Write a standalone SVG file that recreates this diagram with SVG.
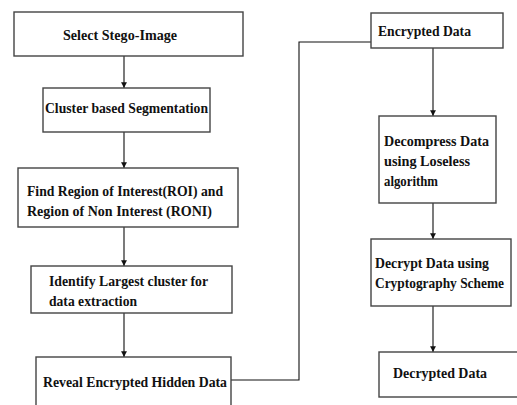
<svg xmlns="http://www.w3.org/2000/svg" width="517" height="405" viewBox="0 0 517 405">
<style>
.box{fill:#fff;stroke:#444;stroke-width:1.4}
.t{font-family:"Liberation Serif","DejaVu Serif",serif;font-weight:bold;font-size:14.5px;fill:#111}
.c{fill:none;stroke:#333;stroke-width:1.3}
.l{fill:none;stroke:#111;stroke-width:1.1}
</style>
<defs>
<marker id="ah" viewBox="0 0 10 10" refX="10" refY="5" markerWidth="4.5" markerHeight="4.5" orient="auto" markerUnits="strokeWidth">
<path d="M0,0 L10,5 L0,10 z" fill="#111"/>
</marker>
</defs>
<rect width="517" height="405" fill="#fff"/>
<g id="connectors">
<line class="c" x1="124" y1="56" x2="124" y2="88" marker-end="url(#ah)"/>
<line class="c" x1="124" y1="132" x2="124" y2="168" marker-end="url(#ah)"/>
<line class="c" x1="124" y1="227" x2="124" y2="266" marker-end="url(#ah)"/>
<line class="c" x1="124" y1="313" x2="124" y2="357" marker-end="url(#ah)"/>
<polyline class="l" points="231,380 299,380 299,42 373,42"/>
<line class="c" x1="433" y1="48" x2="433" y2="116" marker-end="url(#ah)"/>
<line class="c" x1="433" y1="203" x2="433" y2="239" marker-end="url(#ah)"/>
<line class="c" x1="433" y1="306" x2="433" y2="352" marker-end="url(#ah)"/>
</g>
<g id="n1">
<rect class="box" x="14" y="12" width="229" height="44"/>
<text class="t" x="63" y="40" textLength="114" lengthAdjust="spacingAndGlyphs">Select Stego-Image</text>
</g>
<g id="n2">
<rect class="box" x="43" y="88" width="167" height="44"/>
<text class="t" x="45" y="113" textLength="163" lengthAdjust="spacingAndGlyphs">Cluster based Segmentation</text>
</g>
<g id="n3">
<rect class="box" x="18" y="168" width="220" height="59"/>
<text class="t" x="27" y="196" textLength="196" lengthAdjust="spacingAndGlyphs">Find Region of Interest(ROI) and</text>
<text class="t" x="27" y="216" textLength="185" lengthAdjust="spacingAndGlyphs">Region of Non Interest (RONI)</text>
</g>
<g id="n4">
<rect class="box" x="31" y="266" width="201" height="47"/>
<text class="t" x="49" y="286" textLength="159" lengthAdjust="spacingAndGlyphs">Identify Largest cluster for</text>
<text class="t" x="49" y="306" textLength="88" lengthAdjust="spacingAndGlyphs">data extraction</text>
</g>
<g id="n5">
<rect class="box" x="36" y="357" width="195" height="60"/>
<text class="t" x="43" y="387" textLength="184" lengthAdjust="spacingAndGlyphs">Reveal Encrypted Hidden Data</text>
</g>
<g id="n6">
<rect class="box" x="371" y="13" width="132" height="35"/>
<text class="t" x="378" y="36" textLength="93" lengthAdjust="spacingAndGlyphs">Encrypted Data</text>
</g>
<g id="n7">
<rect class="box" x="379" y="116" width="117" height="87"/>
<text class="t" x="384" y="146" textLength="105" lengthAdjust="spacingAndGlyphs">Decompress Data</text>
<text class="t" x="384" y="166" textLength="86" lengthAdjust="spacingAndGlyphs">using Loseless</text>
<text class="t" x="384" y="186" textLength="54" lengthAdjust="spacingAndGlyphs">algorithm</text>
</g>
<g id="n8">
<rect class="box" x="371" y="239" width="140" height="67"/>
<text class="t" x="375" y="268" textLength="114" lengthAdjust="spacingAndGlyphs">Decrypt Data using</text>
<text class="t" x="375" y="288" textLength="129" lengthAdjust="spacingAndGlyphs">Cryptography Scheme</text>
</g>
<g id="n9">
<rect class="box" x="379" y="352" width="145" height="45"/>
<text class="t" x="393" y="378" textLength="94" lengthAdjust="spacingAndGlyphs">Decrypted Data</text>
</g>
</svg>
